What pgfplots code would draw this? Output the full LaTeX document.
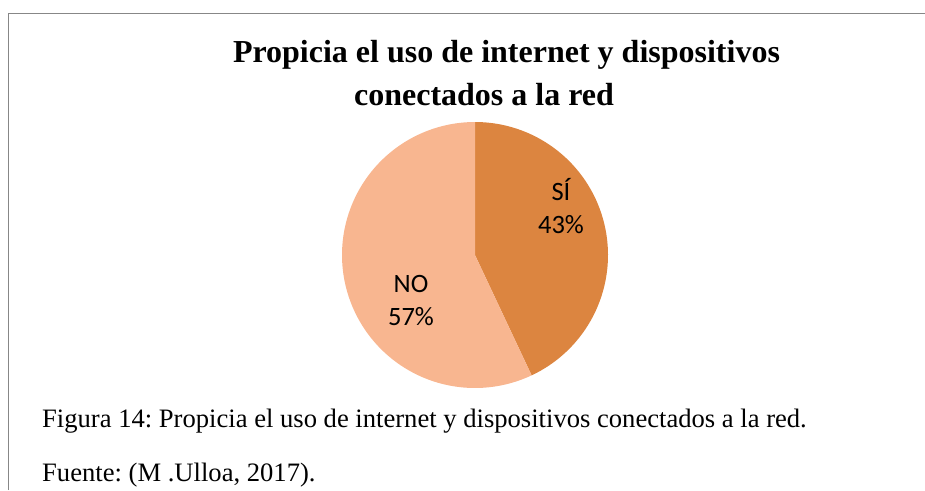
\documentclass[border=0pt]{standalone}
\usepackage{pgfplots}
\pgfplotsset{compat=1.18}
\usepackage{pgfplotstable}
\usepackage{fontspec}
\setmainfont{Liberation Serif}
\newfontfamily\calibri{Carlito}
\definecolor{sicol}{RGB}{220,133,64}
\definecolor{nocol}{RGB}{248,182,144}
\definecolor{framecol}{RGB}{135,135,135}
\frenchspacing
\pgfplotstableread{
label value
SI 43
NO 57
}\piedata
\pgfplotstablegetelem{0}{value}\of\piedata \let\vsi\pgfplotsretval
\pgfplotstablegetelem{1}{value}\of\piedata \let\vno\pgfplotsretval
\pgfmathsetmacro{\asi}{90-3.6*\vsi}
\pgfmathsetmacro{\ano}{90+3.6*\vno}
\begin{document}
\frenchspacing
\begin{tikzpicture}[x=1pt,y=1pt]
\path[use as bounding box] (0,0) rectangle (925,-490);
\draw[framecol, line width=1.3pt] (8.5,-490) -- (8.5,-13.5) -- (925,-13.5);
\node[anchor=base, inner sep=0pt, font=\fontsize{32}{40}\selectfont\bfseries] at (506.5,-62) {Propicia el uso de internet y dispositivos};
\node[anchor=base, inner sep=0pt, font=\fontsize{32}{40}\selectfont\bfseries] at (484,-105) {conectados a la red};
\begin{axis}[
  at={(475pt,-255pt)}, anchor=center,
  scale only axis, width=266pt, height=266pt,
  xmin=-133, xmax=133, ymin=-133, ymax=133,
  axis lines=none, clip=false,
]
\addplot[fill=sicol, draw=none, domain=\asi:90, samples=120] ({133*cos(x)},{133*sin(x)}) -- (axis cs:0,0) -- cycle;
\addplot[fill=nocol, draw=none, domain=90:\ano, samples=150] ({133*cos(x)},{133*sin(x)}) -- (axis cs:0,0) -- cycle;
\node[anchor=base, inner sep=0pt, font=\calibri\fontsize{26.5}{32}\selectfont] at (axis cs:86,54.3) {SÍ};
\node[anchor=base, inner sep=0pt, font=\calibri\fontsize{26.5}{32}\selectfont] at (axis cs:86,22) {\vsi\%};
\node[anchor=base, inner sep=0pt, font=\calibri\fontsize{26.5}{32}\selectfont] at (axis cs:-64,-37.7) {NO};
\node[anchor=base, inner sep=0pt, font=\calibri\fontsize{26.5}{32}\selectfont] at (axis cs:-64,-70) {\vno\%};
\end{axis}
\node[anchor=base west, inner sep=0pt, font=\fontsize{26.6}{32}\selectfont] at (42,-427) {Figura 14: Propicia el uso de internet y dispositivos conectados a la red.};
\node[anchor=base west, inner sep=0pt, font=\fontsize{26.6}{32}\selectfont] at (42,-481) {Fuente: (M .Ulloa, 2017).};
\end{tikzpicture}
\end{document}
